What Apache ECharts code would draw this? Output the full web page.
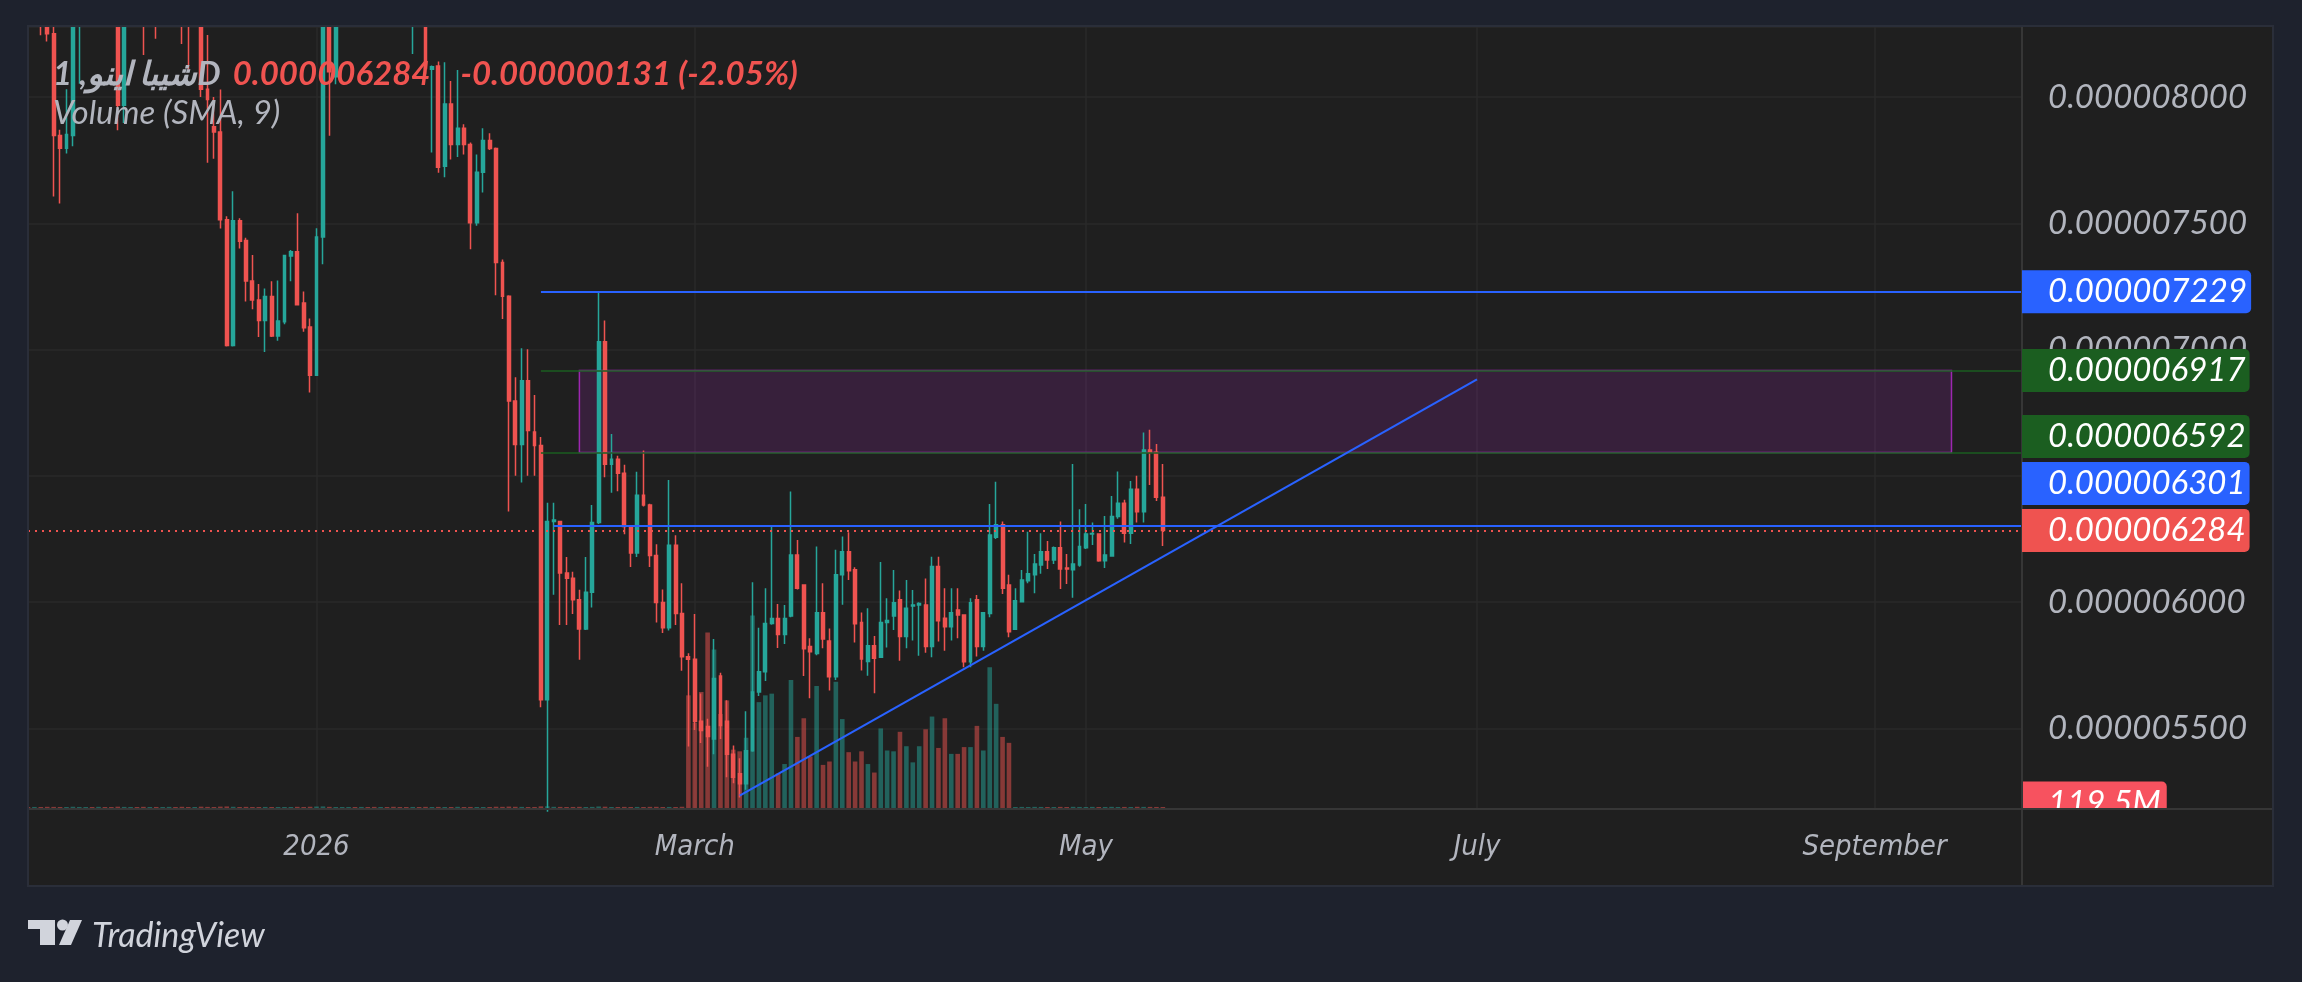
<!DOCTYPE html>
<html><head><meta charset="utf-8">
<script src="https://cdn.jsdelivr.net/npm/echarts@6/dist/echarts.min.js"></script>
<style>html,body{margin:0;padding:0;background:#1e222d;}#c{width:2302px;height:982px;}</style>
</head><body><div id="c"></div>
<script>
// ---- DATA (prices in units of 1e-6, daily candles from 2025-11-17) ----
const firstDay = [2025, 10, 17];   // year, monthIndex, day of first category
const dayCount = 312;              // categories incl. empty future days

const openP = [
 8.60,8.45,8.50,8.30,8.25,7.847,7.797,7.847,8.32,8.45,
 8.60,8.52,8.70,8.62,8.55,7.967,8.35,8.50,8.42,8.30,
 8.45,8.35,8.48,8.55,8.46,8.36,8.30,8.38,8.031,7.882,
 7.861,7.514,7.016,7.51,7.432,7.271,7.196,7.115,7.21,7.054,
 7.11,7.37,7.387,7.184,7.089,6.898,7.446,8.40,8.08,8.35,
 8.55,8.80,8.70,8.85,8.72,8.60,8.68,8.55,8.48,8.40,
 8.35,8.45,8.40,8.11,8.123,7.726,7.972,7.812,7.876,7.812,
 7.502,7.702,7.828,7.796,7.345,7.211,6.796,6.624,6.876,6.674,
 6.62,5.614,6.319,6.319,6.115,6.095,6.009,5.894,6.039,6.315,
 7.031,6.546,6.566,6.51,6.299,6.195,6.423,6.385,6.185,5.999,
 5.899,6.225,5.955,5.784,5.774,5.528,5.508,5.458,5.708,5.528,
 5.398,5.321,5.281,5.412,5.644,5.724,5.915,5.935,5.872,5.945,
 6.187,6.068,5.824,5.797,5.958,5.846,5.705,6.108,6.199,6.128,
 5.919,5.765,5.827,5.782,5.919,5.945,6.009,5.864,5.985,5.989,
 5.989,5.824,6.141,5.936,5.903,5.969,5.949,5.764,6.009,5.824,
 5.955,6.257,6.306,6.068,5.893,6.002,6.085,6.108,6.147,6.199,
 6.167,6.215,6.135,6.128,6.147,6.215,6.27,6.27,6.164,6.183,
 6.339,6.391,6.273,6.447,6.358,6.602,6.593,6.415
];
const closeP = [
 8.45,8.50,8.30,8.25,7.847,7.797,7.851,8.32,8.45,8.60,
 8.52,8.70,8.62,8.55,7.967,8.35,8.50,8.42,8.30,8.45,
 8.35,8.48,8.55,8.46,8.36,8.30,8.38,8.031,7.99,7.861,
 7.514,7.016,7.51,7.429,7.271,7.196,7.115,7.21,7.054,7.113,
 7.372,7.387,7.177,7.086,6.898,7.446,8.35,8.10,8.35,8.55,
 8.80,8.70,8.85,8.72,8.60,8.68,8.55,8.48,8.40,8.35,
 8.45,8.40,8.113,8.12,7.722,7.972,7.812,7.876,7.812,7.502,
 7.702,7.828,7.796,7.345,7.211,6.796,6.624,6.876,6.68,6.62,
 5.614,6.319,6.325,6.115,6.095,6.009,5.894,6.039,6.315,7.031,
 6.546,6.566,6.51,6.299,6.195,6.423,6.385,6.185,5.999,5.899,
 6.225,5.955,5.784,5.774,5.528,5.492,5.468,5.698,5.512,5.398,
 5.307,5.281,5.412,5.644,5.724,5.915,5.935,5.872,5.935,6.187,
 6.055,5.815,5.804,5.958,5.854,5.705,6.108,6.199,6.124,5.914,
 5.775,5.827,5.778,5.919,5.927,5.998,5.864,5.976,5.989,5.995,
 5.824,6.141,5.926,5.903,5.958,5.949,5.764,5.998,5.824,5.958,
 6.266,6.306,6.055,5.883,6.005,6.088,6.112,6.151,6.199,6.167,
 6.215,6.131,6.131,6.151,6.22,6.27,6.272,6.164,6.187,6.339,
 6.391,6.273,6.447,6.358,6.602,6.593,6.415,6.284
];
const lowP = [
 8.38,8.32,8.244,8.22,7.606,7.578,7.776,7.805,8.052,8.40,
 8.45,8.48,8.55,8.40,7.868,7.897,8.30,8.33,8.166,8.29,
 8.23,8.30,8.40,8.38,8.21,8.109,8.29,8.00,7.74,7.755,
 7.479,7.012,7.012,7.40,7.19,7.16,7.05,6.99,7.05,7.035,
 7.10,7.27,7.174,7.07,6.83,6.895,7.338,7.846,8.05,8.30,
 8.50,8.60,8.62,8.60,8.45,8.50,8.42,8.36,8.31,8.29,
 8.17,8.30,8.09,7.78,7.70,7.682,7.752,7.762,7.772,7.397,
 7.49,7.622,7.79,7.215,7.121,6.359,6.50,6.474,6.50,6.50,
 5.584,5.17,6.029,5.909,5.909,5.953,5.772,5.89,5.979,6.309,
 6.494,6.433,6.439,6.269,6.139,6.179,6.379,6.139,5.919,5.878,
 5.888,5.909,5.728,5.428,5.494,5.442,5.348,5.398,5.458,5.307,
 5.283,5.227,5.257,5.408,5.628,5.688,5.91,5.818,5.834,5.94,
 6.05,5.708,5.619,5.79,5.817,5.65,5.692,5.99,6.088,5.84,
 5.729,5.709,5.639,5.78,5.82,5.89,5.768,5.817,5.848,5.788,
 5.80,5.782,5.844,5.808,5.848,5.857,5.742,5.742,5.785,5.808,
 5.94,6.25,6.032,5.861,5.89,6.0,6.075,6.035,6.112,6.131,
 6.151,6.052,6.072,6.017,6.14,6.21,6.226,6.16,6.135,6.18,
 6.33,6.236,6.23,6.315,6.315,6.464,6.40,6.222
];
const highP = [
 8.70,8.62,8.55,8.36,8.30,7.87,8.031,8.40,8.55,8.70,
 8.68,8.78,8.80,8.70,8.60,8.42,8.60,8.58,8.48,8.52,
 8.50,8.55,8.64,8.60,8.50,8.42,8.45,8.42,8.245,8.00,
 8.03,7.528,7.627,7.52,7.443,7.374,7.26,7.242,7.27,7.273,
 7.375,7.394,7.54,7.23,7.123,7.48,8.45,8.45,8.42,8.65,
 8.95,8.90,8.98,8.92,8.78,8.75,8.72,8.62,8.55,8.47,
 8.55,8.52,8.45,8.125,8.14,8.137,8.063,8.107,7.892,7.82,
 7.772,7.876,7.856,7.80,7.357,7.215,6.89,7.005,7.001,6.82,
 6.654,6.393,6.393,6.32,6.179,6.12,6.049,6.179,6.385,7.229,
 7.115,6.666,6.58,6.544,6.30,6.516,6.60,6.39,6.229,6.05,
 6.484,6.265,6.075,5.798,5.953,5.638,5.538,5.854,5.72,5.612,
 5.432,5.382,5.568,6.079,5.899,6.055,6.299,5.993,5.989,6.438,
 6.246,6.07,5.857,6.22,6.075,5.896,6.207,6.26,6.277,6.138,
 5.959,5.976,5.866,6.159,6.015,6.127,6.046,6.088,6.048,6.0,
 6.094,6.18,6.18,6.055,6.055,6.055,5.95,6.015,6.028,5.96,
 6.389,6.477,6.319,6.108,6.055,6.127,6.279,6.191,6.273,6.242,
 6.22,6.319,6.191,6.547,6.368,6.389,6.315,6.272,6.341,6.42,
 6.517,6.405,6.48,6.5,6.672,6.682,6.626,6.547
];
// volume in millions
const volumeM = [
 115,122,108,130,126,112,98,134,120,105,
 118,128,110,102,136,124,107,116,129,100,
 121,113,126,109,131,117,104,138,125,111,
 140,150,132,119,127,108,115,123,118,106,
 112,101,129,120,133,145,152,128,116,110,
 105,119,123,112,126,108,117,131,114,109,
 121,113,127,118,124,110,116,129,119,122,
 115,108,112,135,128,142,131,126,118,120,
 155,160,130,124,117,121,128,114,126,148,
 136,119,111,125,118,123,116,127,130,113,
 122,119,134,6700,5100,6900,10400,9400,5600,6400,
 3500,3400,4200,11400,6300,6700,6800,2100,2650,7600,
 4250,5350,3100,7250,2600,2800,7500,5300,3350,2800,
 3400,2650,2150,4750,3450,3400,4550,3700,2750,3700,
 4700,5450,3600,5350,3250,3250,3650,3650,4900,3450,
 8350,6200,4250,3900,118,124,112,127,121,109,
 115,126,118,130,122,117,125,113,120,128,
 116,123,119,131,126,124,121,119.5
];
const monthLabels = {'2026-01-01':'2026','2026-03-01':'March','2026-05-01':'May','2026-07-01':'July','2026-09-01':'September'};
const priceAxisRange = [5.181, 8.277];
const volumeAxisMax = 46100;
// drawing levels
const resistanceTop = 7.229, zoneHigh = 6.917, zoneLow = 6.592, supportLine = 6.301, lastPrice = 6.284;
const levelStart = '2026-02-05', supportStart = '2026-02-07';
const zoneStart = '2026-02-11', zoneEnd = '2026-09-13';
const trendStart = ['2026-03-08', 5.234], trendEnd = ['2026-07-01', 6.882];
const lastVolume = 119.5;
const titleName = 'شيبا اينو, 1D';
const titlePrice = '0.000006284', titleChange = '-0.000000131 (-2.05%)';

// ---- BUILD ----
const cats = [];
for (let k = 0; k < dayCount; k++) {
  const d = new Date(Date.UTC(firstDay[0], firstDay[1], firstDay[2] + k));
  cats.push(d.toISOString().slice(0, 10));
}
const lastCat = cats[cats.length - 1];
const UP = '#26a69a', DOWN = '#ef5350';
const candleData = openP.map((o, k) => [o, closeP[k], lowP[k], highP[k]]);
const volData = volumeM.map((v, k) => ({
  value: v,
  itemStyle: { color: closeP[k] >= openP[k] ? 'rgba(38,166,154,0.5)' : 'rgba(239,83,80,0.5)' }
}));
const fmt = v => (v * 1e-6).toFixed(9);
const LABEL_FONT = 'Lato, "Noto Sans", sans-serif';
const TIME_FONT = '"Liberation Sans Narrow", "DejaVu Sans Condensed", Lato, sans-serif';
const GRID = { left: 28, top: 27, width: 1994, height: 782 };

const chart = echarts.init(document.getElementById('c'), null, { width: 2302, height: 982 });
chart.setOption({
  backgroundColor: '#1f1f1f',
  animation: false,
  title: {
    left: 48, top: 48, z: 6,
    text: '{a|' + titleName + '}{b|' + titlePrice + '}{c|' + titleChange + '}',
    textStyle: { rich: {
      a: { color: '#b2b5be', fontSize: 33, fontStyle: 'italic', fontFamily: LABEL_FONT, lineHeight: 42 },
      b: { color: '#f05350', fontSize: 33, fontStyle: 'italic', fontFamily: LABEL_FONT, lineHeight: 42, padding: [0, 0, 0, 12] },
      c: { color: '#f05350', fontSize: 33, fontStyle: 'italic', fontFamily: LABEL_FONT, lineHeight: 42, padding: [0, 0, 0, 30] }
    } },
    subtext: 'Volume (SMA, 9)',
    subtextStyle: { color: '#b2b5be', fontSize: 33, fontStyle: 'italic', fontFamily: LABEL_FONT, lineHeight: 42 },
    itemGap: 6
  },
  grid: Object.assign({ show: false, outerBoundsMode: 'none', containLabel: false }, GRID),
  xAxis: {
    type: 'category', data: cats, boundaryGap: false,
    axisLine: { show: false }, axisTick: { show: false },
    axisLabel: {
      interval: (i, v) => v in monthLabels,
      formatter: v => monthLabels[v] || '',
      color: '#b2b5be', fontSize: 29, fontStyle: 'italic', fontFamily: TIME_FONT, margin: 24
    },
    splitLine: { show: true, interval: (i, v) => v in monthLabels, lineStyle: { color: '#2a2a2a', width: 1.5 } }
  },
  yAxis: [
    {
      type: 'value', position: 'right', min: priceAxisRange[0], max: priceAxisRange[1],
      minInterval: 0.5, maxInterval: 0.5,
      axisLine: { show: false }, axisTick: { show: false },
      axisLabel: { formatter: fmt, showMinLabel: false, showMaxLabel: false, margin: 26,
        color: '#b2b5be', fontSize: 33, fontStyle: 'italic', fontFamily: LABEL_FONT },
      splitLine: { lineStyle: { color: '#2a2a2a', width: 1.5 } }
    },
    { type: 'value', min: 0, max: volumeAxisMax, show: false, splitLine: { show: false } }
  ],
  series: [
    {
      type: 'line', data: [], yAxisIndex: 0, z: 1, silent: true,
      markArea: {
        silent: true,
        itemStyle: { color: 'rgba(156,39,176,0.2)', borderColor: '#9c27b0', borderWidth: 1.5 },
        data: [[{ coord: [zoneStart, zoneHigh] }, { coord: [zoneEnd, zoneLow] }]]
      }
    },
    {
      type: 'bar', yAxisIndex: 1, data: volData, barWidth: 4.6, barMinHeight: 2, z: 2, silent: true
    },
    {
      type: 'candlestick', data: candleData, barWidth: 3.4, clip: true, z: 3, silent: true,
      itemStyle: { color: UP, color0: DOWN, borderColor: UP, borderColor0: DOWN, borderWidth: 1.5 },
      markLine: {
        symbol: 'none', silent: true, label: { show: false },
        data: [
          [{ coord: [cats[0], lastPrice], lineStyle: { color: '#ef5350', width: 2, type: [2, 5] } }, { coord: [lastCat, lastPrice] }],
          [{ coord: [levelStart, resistanceTop], lineStyle: { color: '#2962ff', width: 2, type: 'solid' } }, { coord: [lastCat, resistanceTop] }],
          [{ coord: [levelStart, zoneHigh], lineStyle: { color: '#1b5e20', width: 1.5, type: 'solid' } }, { coord: [lastCat, zoneHigh] }],
          [{ coord: [levelStart, zoneLow], lineStyle: { color: '#1b5e20', width: 1.5, type: 'solid' } }, { coord: [lastCat, zoneLow] }],
          [{ coord: [supportStart, supportLine], lineStyle: { color: '#2962ff', width: 2, type: 'solid' } }, { coord: [lastCat, supportLine] }],
          [{ coord: trendStart, lineStyle: { color: '#2962ff', width: 2.2, type: 'solid' } }, { coord: trendEnd }]
        ]
      }
    }
  ]
});

// ---- price tags and frame (positions from the chart's own scales) ----
const yPx = v => chart.convertToPixel({ yAxisIndex: 0 }, v);
const volPx = v => chart.convertToPixel({ yAxisIndex: 1 }, v);
const axisX = GRID.left + GRID.width;
const plotBottom = GRID.top + GRID.height;
const panel = { x: 28, y: 26, r: 2273, b: 886 };
const tags = [
  { v: lastPrice, bg: '#ef5350' },
  { v: supportLine, bg: '#2962ff' },
  { v: zoneLow, bg: '#1b5e20' },
  { v: zoneHigh, bg: '#1b5e20' },
  { v: resistanceTop, bg: '#2962ff' }
];
const tagStep = 47;
let prevY = Infinity;
const graphics = [];
tags.forEach(t => {
  let cy = yPx(t.v);
  if (cy > prevY - tagStep) cy = prevY - tagStep;
  prevY = cy;
  graphics.push({ type: 'text', z: 100, x: axisX, y: cy,
    style: { text: fmt(t.v), font: 'italic 33px ' + LABEL_FONT, fill: '#ffffff', backgroundColor: t.bg,
      padding: [5, 4, 5, 26], borderRadius: [0, 5, 5, 0], align: 'left', verticalAlign: 'middle', lineHeight: 33 } });
});
graphics.push({ type: 'text', z: 80, x: axisX, y: volPx(lastVolume) - 4,
  style: { text: (lastVolume) + 'M', font: 'italic 33px ' + LABEL_FONT, fill: '#ffffff', backgroundColor: '#f7525f',
    padding: [5, 6, 5, 26], borderRadius: [0, 5, 5, 0], align: 'left', verticalAlign: 'middle', lineHeight: 33 } });
// cover below plot in price column
graphics.push({ type: 'rect', z: 90, shape: { x: axisX + 1, y: plotBottom + 1, width: panel.r - axisX - 1, height: panel.b - plotBottom - 1 }, style: { fill: '#1f1f1f' } });
// separators
graphics.push({ type: 'line', z: 95, shape: { x1: axisX, y1: panel.y, x2: axisX, y2: panel.b }, style: { stroke: '#363636', lineWidth: 2 } });
graphics.push({ type: 'line', z: 95, shape: { x1: panel.x, y1: plotBottom, x2: panel.r, y2: plotBottom }, style: { stroke: '#363636', lineWidth: 2 } });
// outer navy frame
const NAVY = '#1e222d';
graphics.push({ type: 'rect', z: 99, shape: { x: 0, y: 0, width: 2302, height: panel.y }, style: { fill: NAVY } });
graphics.push({ type: 'rect', z: 99, shape: { x: 0, y: 0, width: panel.x, height: 982 }, style: { fill: NAVY } });
graphics.push({ type: 'rect', z: 99, shape: { x: panel.r, y: 0, width: 2302 - panel.r, height: 982 }, style: { fill: NAVY } });
graphics.push({ type: 'rect', z: 99, shape: { x: 0, y: panel.b, width: 2302, height: 982 - panel.b }, style: { fill: NAVY } });
graphics.push({ type: 'rect', z: 99, shape: { x: panel.x, y: panel.y, width: panel.r - panel.x, height: panel.b - panel.y }, style: { fill: 'none', stroke: '#2a2e39', lineWidth: 2 } });
// footer logo
const LOGO = '#d1d4dc';
graphics.push({ type: 'rect', z: 100, shape: { x: 28, y: 920, width: 27, height: 9 }, style: { fill: LOGO } });
graphics.push({ type: 'rect', z: 100, shape: { x: 40, y: 920, width: 15, height: 25 }, style: { fill: LOGO } });
graphics.push({ type: 'circle', z: 100, shape: { cx: 62.5, cy: 925, r: 5.5 }, style: { fill: LOGO } });
graphics.push({ type: 'polygon', z: 100, shape: { points: [[70, 920], [82, 920], [71, 945], [59, 945]] }, style: { fill: LOGO } });
graphics.push({ type: 'text', z: 100, x: 92, y: 936, style: { text: 'TradingView', font: 'italic 34px ' + LABEL_FONT, fill: LOGO, align: 'left', verticalAlign: 'middle' } });
chart.setOption({ graphic: graphics });
</script>
</body></html>
